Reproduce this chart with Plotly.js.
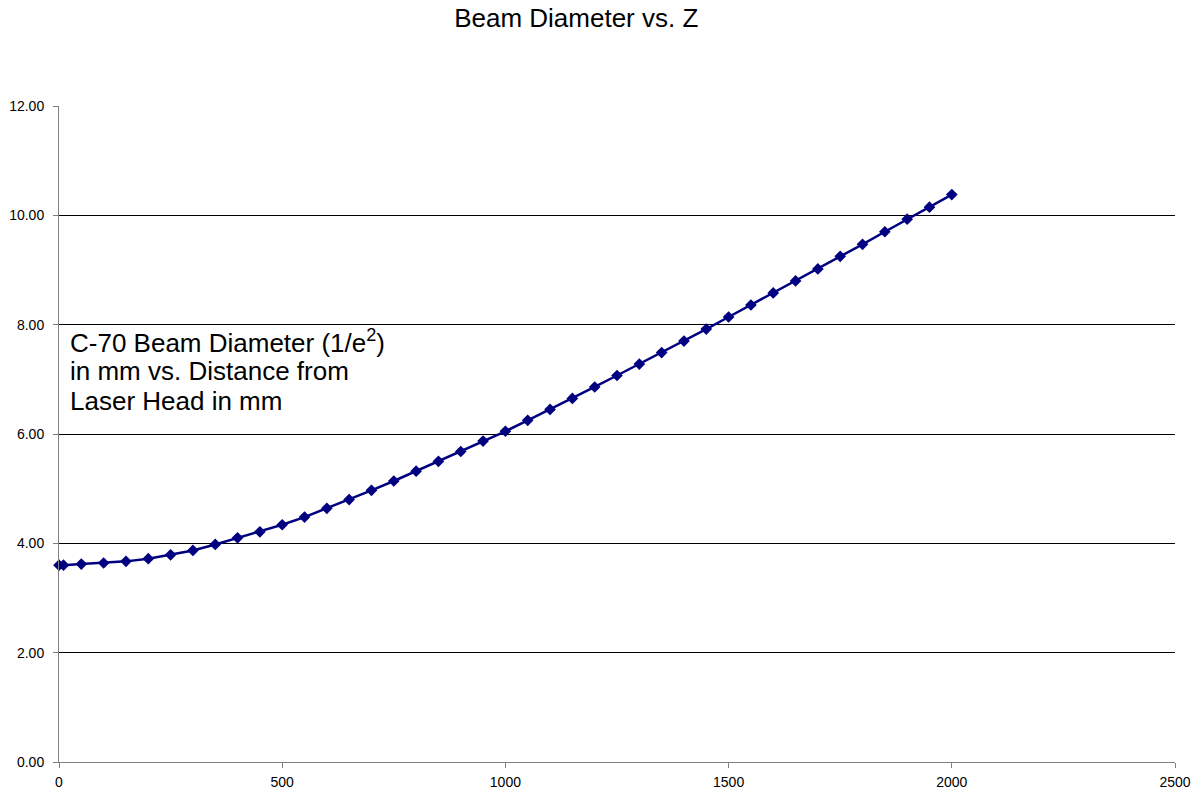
<!DOCTYPE html>
<html>
<head>
<meta charset="utf-8">
<script src="https://cdn.plot.ly/plotly-3.0.1.min.js"></script>
<style>html,body{margin:0;padding:0;background:#fff;}#chart{width:1198px;height:789px;}</style>
</head>
<body>
<div id="chart"></div>
<script>
// Distance from laser head (mm)
const zValues = [0, 10, 50, 100, 150, 200, 250, 300, 350, 400, 450, 500, 550, 600, 650, 700, 750, 800, 850, 900, 950,
  1000, 1050, 1100, 1150, 1200, 1250, 1300, 1350, 1400, 1450, 1500, 1550, 1600, 1650, 1700, 1750, 1800, 1850, 1900, 1950, 2000];
// Beam diameter (mm)
const diameterValues = [3.60, 3.60, 3.62, 3.64, 3.67, 3.72, 3.79, 3.87, 3.98, 4.10, 4.21, 4.34, 4.48, 4.64, 4.80, 4.97, 5.14, 5.32, 5.50, 5.68, 5.87,
  6.05, 6.25, 6.45, 6.65, 6.86, 7.07, 7.28, 7.49, 7.70, 7.92, 8.14, 8.36, 8.58, 8.80, 9.02, 9.25, 9.47, 9.70, 9.93, 10.15, 10.38];
const yGridVals = [2, 4, 6, 8, 10];
const chartTitle = 'Beam Diameter vs. Z';
const noteLines = ['C-70 Beam Diameter (1/e<sup>2</sup>)', 'in mm vs. Distance from', 'Laser Head in mm'];

const font = '"Liberation Sans", Arial, sans-serif';

const trace = {
  x: zValues,
  y: diameterValues,
  type: 'scatter',
  mode: 'lines+markers',
  line: {color: '#000080', width: 2.5},
  marker: {symbol: 'diamond', size: 9, color: '#000080'},
  cliponaxis: false,
  hoverinfo: 'x+y',
  showlegend: false
};

// note lines placed in plot fractions (line spacing ~29px)
const noteY = [0.641, 0.596, 0.551];
const annotations = noteLines.map((t, i) => ({
  text: t,
  xref: 'paper', yref: 'paper',
  x: 0.008, y: noteY[i],
  xanchor: 'left', yanchor: 'middle',
  align: 'left',
  showarrow: false,
  font: {family: font, size: 26, color: '#000'}
}));

const layout = {
  width: 1198,
  height: 789,
  paper_bgcolor: '#ffffff',
  plot_bgcolor: '#ffffff',
  margin: {l: 59, r: 23, t: 106, b: 27},
  font: {family: font, color: '#000'},
  title: {
    text: chartTitle,
    font: {family: font, size: 26, color: '#000'},
    xref: 'container', x: 0.481, xanchor: 'center',
    yref: 'container', y: 0.977, yanchor: 'middle'
  },
  xaxis: {
    range: [0, 2500],
    dtick: 500,
    tick0: 0,
    showgrid: false,
    zeroline: false,
    showline: true,
    linecolor: '#808080',
    linewidth: 1,
    ticks: 'outside',
    ticklen: 5,
    tickcolor: '#808080',
    ticklabelstandoff: 2,
    tickfont: {family: font, size: 14, color: '#000'},
    fixedrange: true
  },
  yaxis: {
    range: [0, 12],
    dtick: 2,
    tick0: 0,
    tickformat: '.2f',
    showgrid: false,
    zeroline: false,
    showline: true,
    linecolor: '#808080',
    linewidth: 1,
    ticks: 'outside',
    ticklen: 5,
    tickcolor: '#808080',
    ticklabelstandoff: 6,
    tickfont: {family: font, size: 14, color: '#000'},
    fixedrange: true
  },
  yaxis2: {
    overlaying: 'y',
    range: [0, 12],
    tickvals: yGridVals,
    showticklabels: false,
    ticks: '',
    showgrid: true,
    gridcolor: '#000000',
    gridwidth: 1,
    zeroline: false,
    showline: false,
    fixedrange: true
  },
  annotations: annotations
};

const gridTrace = {x: [0], y: [0], yaxis: 'y2', type: 'scatter', mode: 'markers', marker: {opacity: 0}, hoverinfo: 'skip', showlegend: false};

Plotly.newPlot('chart', [gridTrace, trace], layout, {displayModeBar: false});
</script>
</body>
</html>
